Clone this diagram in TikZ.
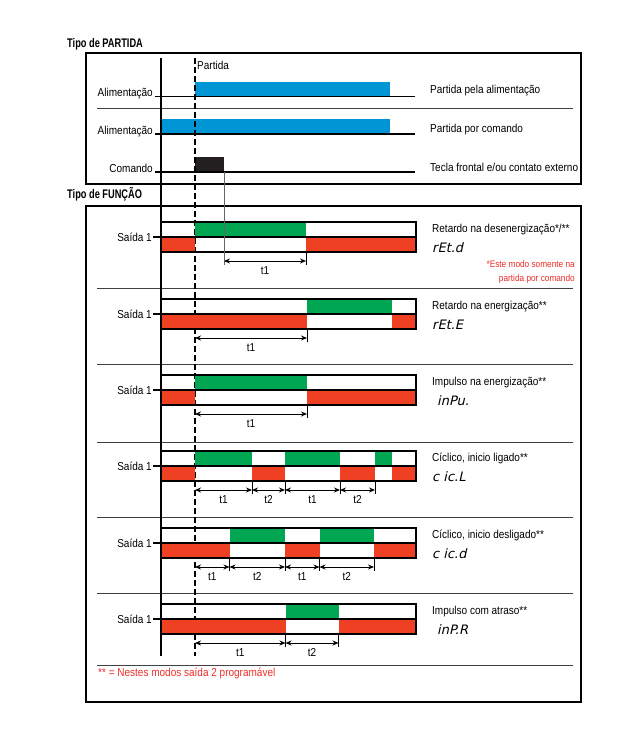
\documentclass[tikz,border=0pt]{standalone}
\usepackage{fontspec}
\setmainfont{Liberation Sans}[FakeStretch=0.87]
\newfontfamily\titlefont{Liberation Sans}[FakeStretch=0.74]
\newfontfamily\segfont{DejaVu Sans}[FakeSlant=0.22]
\usetikzlibrary{positioning,arrows.meta}

\definecolor{alimblue}{RGB}{0,150,214}
\definecolor{okgreen}{RGB}{0,166,81}
\definecolor{offred}{RGB}{239,64,35}
\definecolor{cmdblack}{RGB}{35,31,32}
\definecolor{notered}{RGB}{237,45,40}

% one output row: top y, green spans (upper half), red spans (lower half)
\newcommand{\outrow}[3]{%
  \foreach \a/\b in {#2} \fill[okgreen] (\a,#1) rectangle (\b,#1+15);
  \foreach \a/\b in {#3} \fill[offred] (\a,#1+15) rectangle (\b,#1+30);
  \draw[rowline] (161,#1) rectangle (416,#1+30) (161,#1+15) -- (416,#1+15);
  \node[anchor=east] (s#1) at (153,#1+15) {Saída 1};
  \draw[rowline] (s#1.east) -- (161,#1+15);}

% one time span under a row: name, start x, end x, y, label
\newcommand{\timespan}[5]{%
  \coordinate (#1s) at (#2,#4);
  \coordinate (#1e) at (#3,#4);
  \draw[dimarrow] (#1s) -- node[spanlabel] (#1l) {#5} (#1e);}

\begin{document}
\begin{tikzpicture}[x=1pt,y=-1pt,
    every node/.style={font=\fontsize{11.5}{13}\selectfont, inner sep=1pt},
    title/.style={font=\titlefont\bfseries\fontsize{12.5}{14}\selectfont, anchor=base west},
    frame/.style={line width=1.8pt},
    sepline/.style={line width=1pt, black!75},
    rowline/.style={line width=1.2pt},
    axis/.style={line width=1.2pt},
    dimarrow/.style={{Stealth[length=6pt,width=5pt]}-{Stealth[length=6pt,width=5pt]}, line width=0.9pt},
    spanlabel/.style={midway, anchor=north, yshift=-4pt},
    tick/.style={line width=0.9pt},
    mode/.style={anchor=base west},
    code/.style={anchor=base west, font=\segfont\fontsize{13}{15}\selectfont},
    note/.style={text=notered, anchor=base east, font=\fontsize{9.5}{11}\selectfont}]
    \useasboundingbox (0,0) rectangle (640,732);

    % Frames and titles
    \draw[frame] (86,53) rectangle (581,184);
    \draw[frame] (86,206) rectangle (581,702);
    \node[title] (tpart) at (66,47) {Tipo de PARTIDA};
    \node[title] (tfunc) at (66,198) {Tipo de FUNÇÃO};

    % Start signals
    \fill[alimblue] (195,82) rectangle (390,96.5);
    \fill[alimblue] (161,119) rectangle (390,134);
    \fill[cmdblack] (195,157) rectangle (224,172);
    \foreach \y in {96.5,134,172} \draw[rowline] (155,\y) -- (415,\y);
    \node[anchor=base east] (alim1) at (154,96.5) {Alimentação};
    \node[anchor=base east] (alim2) at (154,134) {Alimentação};
    \node[anchor=base east] (cmd) at (154,172) {Comando};
    \node[mode] (pa) at (429,93.5) {Partida pela alimentação};
    \node[mode] (pc) at (429,132) {Partida por comando};
    \node[mode] (tf) at (429,171.5) {Tecla frontal e/ou contato externo};
    \node[anchor=base west, inner sep=0pt] (start) at (197,69) {Partida};

    % Separators
    \foreach \y in {108,288,364,442,517,593,665}
        \draw[sepline] (97,\y) -- (573,\y);

    % Time axis and start line
    \draw[axis] (161,58) -- (161,656);
    \draw[axis, dash pattern=on 6pt off 3pt] (195,58) -- (195,656);

    % Retardo na desenergizacao
    \outrow{222}{195/306}{161/195,306/416}
    \draw[tick, black!60] (224,172) -- (224,265);
    \draw[tick] (306,252) -- (306,265);
    \timespan{a}{224}{306}{261}{t1}
    \node[mode] (m1) at (431,232) {Retardo na desenergização*/**};
    \node[code] (c1) at (431,252) {rEt.d};
    \node[note] (n1) at (576,267) {*Este modo somente na};
    \node[note] (n2) at (576,281) {partida por comando};

    % Retardo na energizacao
    \outrow{299}{307/392}{161/307,392/416}
    \draw[tick] (307,329) -- (307,342);
    \timespan{b}{195}{307}{338}{t1}
    \node[mode] (m2) at (431,309) {Retardo na energização**};
    \node[code] (c2) at (431,329) {rEt.E};

    % Impulso na energizacao
    \outrow{375}{195/307}{161/195,307/416}
    \draw[tick] (307,405) -- (307,418);
    \timespan{c}{195}{307}{414}{t1}
    \node[mode] (m3) at (431,385) {Impulso na energização**};
    \node[code] (c3) at (436,405) {inPu.};

    % Ciclico, inicio ligado
    \outrow{451}{195/252,285/340,375/392}{161/195,252/285,340/375,392/416}
    \foreach \x in {252,285,340,375} \draw[tick] (\x,481) -- (\x,494);
    \timespan{d1}{195}{252}{490}{t1}
    \timespan{d2}{252}{285}{490}{t2}
    \timespan{d3}{285}{340}{490}{t1}
    \timespan{d4}{340}{375}{490}{t2}
    \node[mode] (m4) at (431,461) {Cíclico, inicio ligado**};
    \node[code] (c4) at (431,481) {c ic.L};

    % Ciclico, inicio desligado
    \outrow{528}{229.5/285,319.5/374}{161/229.5,285/319.5,374/416}
    \foreach \x in {229.5,285,319.5,374} \draw[tick] (\x,558) -- (\x,571);
    \timespan{e1}{195}{229.5}{567}{t1}
    \timespan{e2}{229.5}{285}{567}{t2}
    \timespan{e3}{285}{319.5}{567}{t1}
    \timespan{e4}{319.5}{374}{567}{t2}
    \node[mode] (m5) at (431,538) {Cíclico, inicio desligado**};
    \node[code] (c5) at (431,558) {c ic.d};

    % Impulso com atraso
    \outrow{604}{285.5/338.5}{161/285.5,338.5/416}
    \foreach \x in {285.5,338.5} \draw[tick] (\x,634) -- (\x,647);
    \timespan{f1}{195}{285.5}{643}{t1}
    \timespan{f2}{285.5}{338.5}{643}{t2}
    \node[mode] (m6) at (431,614) {Impulso com atraso**};
    \node[code] (c6) at (436,634) {inP.R};

    \node[anchor=base west, text=notered] (foot) at (97,676) {** = Nestes modos saída 2 programável};
\end{tikzpicture}
\end{document}
